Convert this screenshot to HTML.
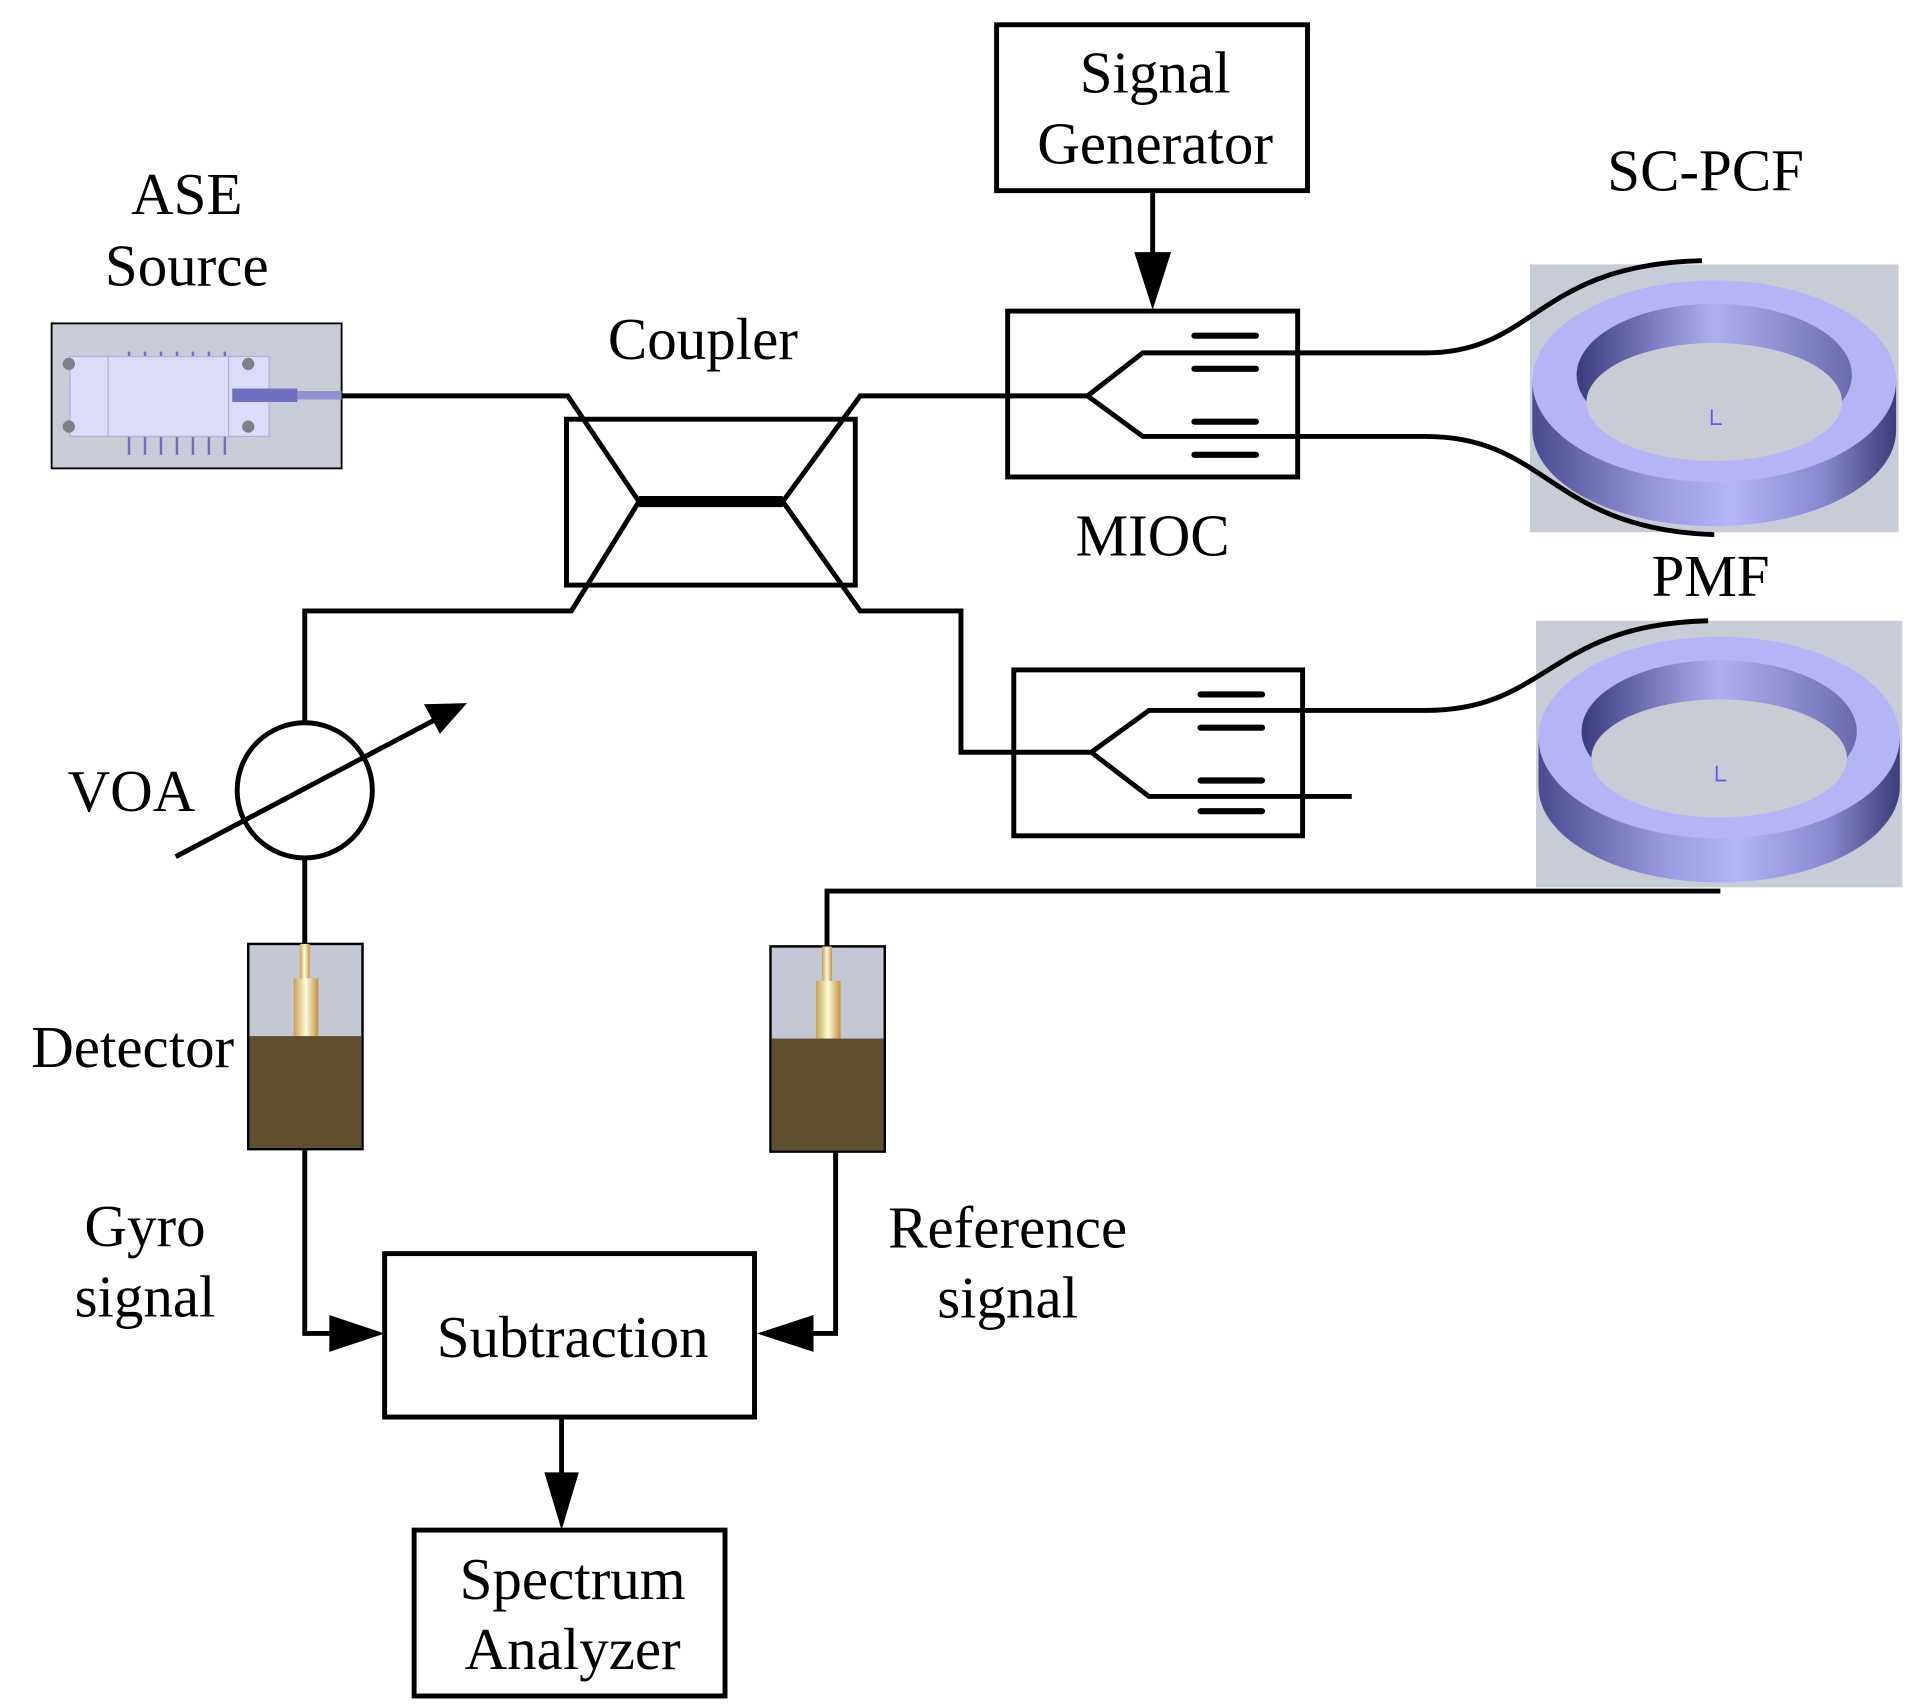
<!DOCTYPE html>
<html><head><meta charset="utf-8"><style>
html,body{margin:0;padding:0;background:#fff;}
svg{display:block;}
text{font-family:"Liberation Serif",serif;font-size:48px;fill:#000;text-anchor:middle;}
</style></head><body>
<svg width="1917" height="1706" viewBox="0 0 1560 1388" xmlns="http://www.w3.org/2000/svg">
<defs>
<linearGradient id="side" x1="0" x2="1" y1="0" y2="0">
<stop offset="0" stop-color="#4a4a90"/><stop offset="0.35" stop-color="#9a9ae0"/><stop offset="0.55" stop-color="#b4b4f8"/><stop offset="0.8" stop-color="#8888d0"/><stop offset="1" stop-color="#3c3c78"/>
</linearGradient>
<linearGradient id="inner" x1="0" x2="1" y1="0" y2="0">
<stop offset="0" stop-color="#3a3a80"/><stop offset="0.5" stop-color="#b0b0f0"/><stop offset="1" stop-color="#6a6ab0"/>
</linearGradient>
<linearGradient id="pin" x1="0" x2="1">
<stop offset="0" stop-color="#c8a050"/><stop offset="0.5" stop-color="#fffbd8"/><stop offset="1" stop-color="#c09040"/>
</linearGradient>
</defs>

<g transform="translate(1245,215)">
<rect x="0" y="0" width="300" height="218" fill="#c8ccd6"/>
<path d="M2,95 L2,135 A148,78 0 0 0 298,135 L298,95 Z" fill="url(#side)"/>
<ellipse cx="150" cy="95" rx="148" ry="82" fill="#b4b4f6"/>
<ellipse cx="150" cy="90" rx="112" ry="58" fill="url(#inner)"/>
<ellipse cx="150" cy="112" rx="104" ry="48" fill="#c9ccd4"/>
<path d="M148,118 v12 h8" stroke="#5a5af0" stroke-width="1.5" fill="none"/>
</g>
<g transform="translate(1250,505)">
<rect x="0" y="0" width="298" height="217" fill="#c8ccd6"/>
<path d="M2,95 L2,135 A147,78 0 0 0 296,135 L296,95 Z" fill="url(#side)"/>
<ellipse cx="149" cy="95" rx="147" ry="82" fill="#b4b4f6"/>
<ellipse cx="149" cy="90" rx="112" ry="58" fill="url(#inner)"/>
<ellipse cx="149" cy="112" rx="104" ry="48" fill="#c9ccd4"/>
<path d="M147,118 v12 h8" stroke="#5a5af0" stroke-width="1.5" fill="none"/>
</g>

<rect x="42" y="263" width="236" height="118" fill="#c8ccd6" stroke="#000" stroke-width="1.5"/>
<g stroke="#7070b8" stroke-width="2">
<line x1="105" y1="286" x2="105" y2="370"/><line x1="118" y1="286" x2="118" y2="370"/><line x1="131" y1="286" x2="131" y2="370"/><line x1="144" y1="286" x2="144" y2="370"/><line x1="157" y1="286" x2="157" y2="370"/><line x1="170" y1="286" x2="170" y2="370"/><line x1="183" y1="286" x2="183" y2="370"/>
</g>
<rect x="57" y="290" width="32" height="65" fill="#dcdcfa" stroke="#b0b0d8"/>
<rect x="88" y="290" width="100" height="65" fill="#dcdcfa" stroke="#b0b0d8"/>
<rect x="186" y="290" width="33" height="65" fill="#dcdcfa" stroke="#b0b0d8"/>
<circle cx="56" cy="296" r="5" fill="#808088"/><circle cx="56" cy="347" r="5" fill="#808088"/>
<circle cx="202" cy="296" r="5" fill="#808088"/><circle cx="202" cy="347" r="5" fill="#808088"/>
<rect x="189" y="316" width="53" height="11" fill="#7070c0"/>
<rect x="242" y="318" width="36" height="7" fill="#9090d0"/>

<g transform="translate(202,768)">
<rect x="0" y="0" width="93" height="167" fill="#c4c8d4" stroke="#000" stroke-width="2"/>
<rect x="42" y="0" width="8" height="30" fill="url(#pin)"/>
<rect x="37" y="28" width="20" height="48" fill="url(#pin)"/>
<rect x="1" y="75" width="91" height="91" fill="#5e4f2e"/>
</g>
<g transform="translate(627,770)">
<rect x="0" y="0" width="93" height="167" fill="#c4c8d4" stroke="#000" stroke-width="2"/>
<rect x="42" y="0" width="8" height="30" fill="url(#pin)"/>
<rect x="37" y="28" width="20" height="48" fill="url(#pin)"/>
<rect x="1" y="75" width="91" height="91" fill="#5e4f2e"/>
</g>

<g stroke="#000" stroke-width="4" fill="none">
<rect x="811" y="20" width="253" height="135"/>
<line x1="938" y1="155" x2="938" y2="210"/>
<rect x="820" y="253" width="236" height="135"/>
<rect x="461" y="341" width="235" height="135"/>
<rect x="825" y="545" width="235" height="135"/>
<rect x="313" y="1020" width="301" height="133"/>
<rect x="337" y="1245" width="253" height="135"/>
<line x1="457" y1="1153" x2="457" y2="1200"/>
<polyline points="278,322 462,322 520,408"/>
<polyline points="520,408 465,497 248,497 248,588"/>
<polyline points="637,408 700,322 885,322 930,287 1160,287"/>
<polyline points="885,322 930,355 1160,355"/>
<polyline points="637,408 700,497 782,497 782,612 888,612 935,578 1160,578"/>
<polyline points="888,612 935,648 1100,648"/>
<polyline points="1400,725 673,725 673,770"/>
<line x1="248" y1="698" x2="248" y2="768"/>
<polyline points="248,935 248,1085 270,1085"/>
<polyline points="680,937 680,1085 660,1085"/>
<circle cx="248" cy="643" r="55"/>
<line x1="143" y1="697" x2="355" y2="585"/>
<path d="M1160,287 C1250,287 1250,215 1385,212"/>
<path d="M1160,355 C1260,355 1260,430 1395,435"/>
<path d="M1160,578 C1260,578 1260,508 1390,505"/>
</g>
<line x1="520" y1="408" x2="637" y2="408" stroke="#000" stroke-width="9"/>
<g stroke="#000" stroke-width="5" stroke-linecap="round">
<line x1="972" y1="273" x2="1022" y2="273"/><line x1="972" y1="300" x2="1022" y2="300"/>
<line x1="972" y1="343" x2="1022" y2="343"/><line x1="972" y1="370" x2="1022" y2="370"/>
<line x1="977" y1="565" x2="1027" y2="565"/><line x1="977" y1="592" x2="1027" y2="592"/>
<line x1="977" y1="635" x2="1027" y2="635"/><line x1="977" y1="660" x2="1027" y2="660"/>
</g>
<polygon points="923,205 953,205 938,252" fill="#000"/>
<polygon points="443,1198 471,1198 457,1245" fill="#000"/>
<polygon points="268,1070 268,1100 313,1085" fill="#000"/>
<polygon points="662,1070 662,1100 616,1085" fill="#000"/>
<polygon points="380,572 345,573 358,597" fill="#000"/>

<text x="940" y="75">Signal</text>
<text x="940" y="133">Generator</text>
<text x="1388" y="155">SC-PCF</text>
<text x="152" y="174">ASE</text>
<text x="152" y="232">Source</text>
<text x="572" y="292">Coupler</text>
<text x="938" y="452">MIOC</text>
<text x="1392" y="485">PMF</text>
<text x="107" y="660">VOA</text>
<text x="108" y="868">Detector</text>
<text x="118" y="1014">Gyro</text>
<text x="118" y="1071">signal</text>
<text x="820" y="1015">Reference</text>
<text x="820" y="1072">signal</text>
<text x="466" y="1104">Subtraction</text>
<text x="466" y="1301">Spectrum</text>
<text x="466" y="1358">Analyzer</text>
</svg>
</body></html>
